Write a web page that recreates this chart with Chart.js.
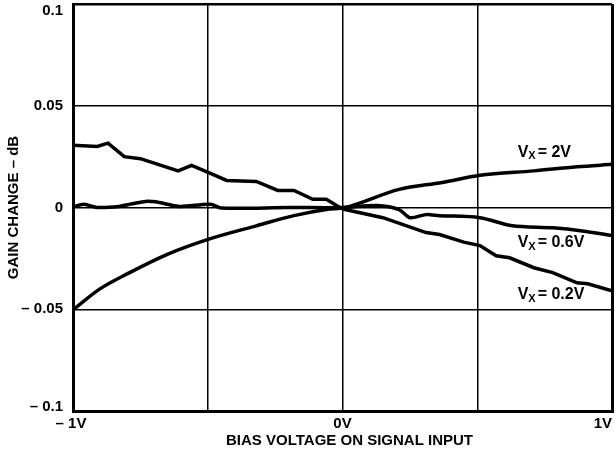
<!DOCTYPE html>
<html>
<head>
<meta charset="utf-8">
<script src="https://cdn.jsdelivr.net/npm/chart.js@4.4.1/dist/chart.umd.min.js"></script>
<style>
  html, body { margin: 0; padding: 0; background: #fff; }
  #wrap { width: 616px; height: 451px; }
</style>
</head>
<body>
<div id="wrap"><canvas id="gainChart" width="616" height="451"></canvas></div>
<script>
// Gain change (dB) vs bias voltage on signal input (V)
const vx02X = [-1, -0.91, -0.87, -0.81, -0.75, -0.61, -0.56, -0.49, -0.43, -0.32, -0.24, -0.18, -0.11, -0.06, -0.01, 0.01, 0.15, 0.31, 0.36, 0.45, 0.51, 0.57, 0.62, 0.71, 0.78, 0.87, 0.91, 1.0];
const vx02Y = [0.0306, 0.030, 0.0316, 0.025, 0.024, 0.018, 0.0207, 0.0168, 0.0133, 0.0128, 0.0084, 0.0084, 0.004, 0.004, 0.0, -0.001, -0.005, -0.0123, -0.0133, -0.017, -0.0187, -0.0237, -0.0247, -0.0296, -0.032, -0.037, -0.0375, -0.041];

const vx06X = [-1, -0.96, -0.91, -0.83, -0.78, -0.73, -0.68, -0.65, -0.60, -0.49, -0.45, -0.2, 0, 0.13, 0.21, 0.25, 0.31, 0.36, 0.51, 0.63, 0.78, 0.89, 1.0];
const vx06Y = [0.0003, 0.0016, 0, 0.0005, 0.0018, 0.003, 0.0025, 0.0016, 0.0005, 0.0016, -0.0003, 0, 0, 0.001, -0.001, -0.005, -0.0035, -0.004, -0.005, -0.009, -0.01, -0.0115, -0.0138];

const vx2X = [-1, -0.90, -0.79, -0.65, -0.49, -0.32, -0.18, -0.06, 0.01, 0.21, 0.37, 0.51, 0.71, 0.87, 1.0];
const vx2Y = [-0.0503, -0.040, -0.032, -0.023, -0.0153, -0.009, -0.004, -0.001, 0, 0.0089, 0.0123, 0.0158, 0.018, 0.02, 0.0212];

const xTickValues = [-1, 0, 1];
const xTickLabels = ['\u2013 1V', '0V', '1V'];
const yTickValues = [0.1, 0.05, 0, -0.05, -0.1];
const yTickLabels = ['0.1', '0.05', '0', '\u2013 0.05', '\u2013 0.1'];

const curveNames = ['2V', '0.6V', '0.2V'];
const curveLabelX = [0.65, 0.65, 0.65];
const curveLabelY = [0.0272, -0.0173, -0.0428];

const xTitle = 'BIAS VOLTAGE ON SIGNAL INPUT';
const yTitle = 'GAIN CHANGE \u2013 dB';

const FONT = '"Liberation Sans", Arial, Helvetica, sans-serif';

function toPoints(xs, ys) {
  return xs.map((x, i) => ({ x: x, y: ys[i] }));
}

// Texts drawn on top: tick labels, axis titles and curve labels
const textPlugin = {
  id: 'texts',
  afterDraw(chart) {
    const c = chart.ctx;
    const xs = chart.scales.x, ys = chart.scales.y;
    const area = chart.chartArea;
    c.save();
    c.fillStyle = '#000';
    c.font = 'bold 15px ' + FONT;
    c.textBaseline = 'middle';

    c.textAlign = 'right';
    yTickValues.forEach((v, i) => {
      // keep end labels inside the canvas, like the original print
      let py = ys.getPixelForValue(v);
      py = Math.min(Math.max(py, area.top + 7), area.bottom - 4);
      c.fillText(yTickLabels[i], area.left - 10, py);
    });

    xTickValues.forEach((v, i) => {
      const px = xs.getPixelForValue(v);
      const last = i === xTickValues.length - 1;
      c.textAlign = last ? 'right' : 'center';
      c.fillText(xTickLabels[i], px + (i === 0 ? -2 : 0), area.bottom + 13);
    });
    c.textAlign = 'center';
    c.fillText(xTitle, (xs.left + xs.right) / 2 + 7, area.bottom + 30);

    c.save();
    c.translate(14, (area.top + area.bottom) / 2);
    c.rotate(-Math.PI / 2);
    c.fillText(yTitle, 0, 0);
    c.restore();

    curveNames.forEach((name, i) => {
      let px = xs.getPixelForValue(curveLabelX[i]);
      const py = ys.getPixelForValue(curveLabelY[i]);
      c.textAlign = 'left';
      c.font = 'bold 16px ' + FONT;
      c.fillText('V', px, py);
      px += c.measureText('V').width;
      c.font = 'bold 11px ' + FONT;
      c.fillText('X', px, py + 4);
      px += c.measureText('X').width + 2;
      c.font = 'bold 16px ' + FONT;
      c.fillText('= ' + name, px, py);
    });
    c.restore();
  }
};

function edgeWidth(ctx, min, max, inner, edge) {
  const v = ctx.tick ? ctx.tick.value : null;
  if (v === min || v === max) return edge;
  return inner;
}

const lineStyle = {
  borderColor: '#000',
  borderWidth: 3.5,
  pointRadius: 0,
  fill: false
};

new Chart(document.getElementById('gainChart').getContext('2d'), {
  type: 'line',
  data: {
    datasets: [
      Object.assign({ label: 'VX = 0.2V', data: toPoints(vx02X, vx02Y), tension: 0 }, lineStyle),
      Object.assign({ label: 'VX = 0.6V', data: toPoints(vx06X, vx06Y), tension: 0.3 }, lineStyle),
      Object.assign({ label: 'VX = 2V', data: toPoints(vx2X, vx2Y), cubicInterpolationMode: 'monotone' }, lineStyle)
    ]
  },
  options: {
    responsive: false,
    animation: false,
    devicePixelRatio: 1,
    layout: { padding: { top: 4, right: 4, left: 0, bottom: 0 } },
    plugins: {
      legend: { display: false },
      tooltip: { enabled: false }
    },
    scales: {
      x: {
        type: 'linear',
        min: -1,
        max: 1,
        ticks: { stepSize: 0.5, display: false },
        grid: {
          color: '#000',
          lineWidth: ctx => edgeWidth(ctx, -1, 1, 1.5, 3),
          drawTicks: false
        },
        border: { color: '#000', width: 3 },
        afterFit: scale => { scale.height = 40; }
      },
      y: {
        type: 'linear',
        min: -0.1,
        max: 0.1,
        ticks: { stepSize: 0.05, display: false },
        grid: {
          color: '#000',
          lineWidth: ctx => edgeWidth(ctx, -0.1, 0.1, 1.5, 2.5),
          drawTicks: false
        },
        border: { color: '#000', width: 3 },
        afterFit: scale => { scale.width = 73; }
      }
    }
  },
  plugins: [textPlugin]
});
</script>
</body>
</html>
